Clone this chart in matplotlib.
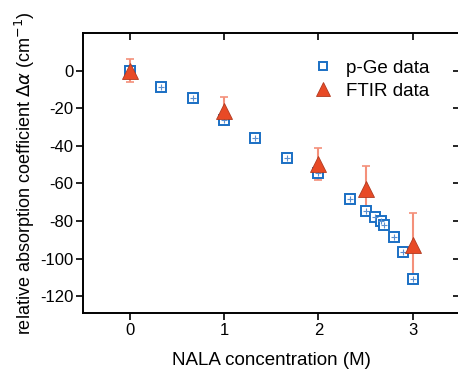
import matplotlib.pyplot as plt
import numpy as np

plt.rcParams['font.family'] = ['Liberation Sans', 'DejaVu Sans']
plt.rcParams['axes.unicode_minus'] = False

# p-Ge data
pge_x = [0.0, 0.33, 0.67, 1.0, 1.33, 1.67, 2.0, 2.33, 2.5, 2.6, 2.66, 2.7, 2.8, 2.9, 3.0]
pge_y = [0.0, -8.5, -14.5, -26.5, -35.7, -46.6, -54.2, -68.5, -74.5, -77.7, -79.8, -82.1, -88.4, -96.4, -110.6]

# FTIR data
ftir_x = [0.0, 1.0, 2.0, 2.5, 3.0]
ftir_y = [0.0, -21.5, -49.5, -63.0, -93.0]
ftir_err = [6.0, 7.5, 8.5, 12.5, 17.5]

fig = plt.figure(figsize=(4.58, 3.71), dpi=100)
ax = fig.add_axes([0.181, 0.156, 0.823, 0.755])

ax.errorbar(ftir_x, ftir_y, yerr=ftir_err, fmt='none', ecolor='#f4907a',
            elinewidth=1.5, capsize=3, capthick=1.2, zorder=1)
ax.plot(pge_x, pge_y, 's', ms=7, mfc='white', mec='#1a6fc4', mew=1.4,
        ls='none', zorder=3, label='p-Ge data')
ax.plot(pge_x, pge_y, '+', ms=5, mec='#5a8fd0', mew=0.8, ls='none', zorder=4)
ax.plot(ftir_x, ftir_y, '^', ms=12, mfc='#e84a26', mec='#b03a20', mew=0.6,
        ls='none', zorder=5, label='FTIR data')

ax.set_xlim(-0.5, 3.5)
ax.set_ylim(-129, 20)
ax.set_xticks([0, 1, 2, 3])
ax.set_yticks(np.arange(-120, 1, 20))

ax.tick_params(axis='both', labelsize=12, width=1.2, length=5, pad=2)
ax.tick_params(top=True, right=True, direction='out')
for t in ax.xaxis.get_major_ticks():
    t.tick2line.set_marker(3)  # inward from top
for t in ax.yaxis.get_major_ticks():
    t.tick2line.set_marker(0)  # inward from right
for s in ax.spines.values():
    s.set_linewidth(1.4)

ax.set_xlabel('NALA concentration (M)', fontsize=13.5, labelpad=10)
ax.set_ylabel(r'relative absorption coefficient $\Delta\alpha$ (cm$^{-1}$)', fontsize=13, labelpad=2)

ax.legend(loc='upper right', bbox_to_anchor=(0.963, 0.965), frameon=False,
          fontsize=13.5, handletextpad=0.2, labelspacing=0.3, markerscale=0.85)

fig.savefig('out.png', dpi=100)
